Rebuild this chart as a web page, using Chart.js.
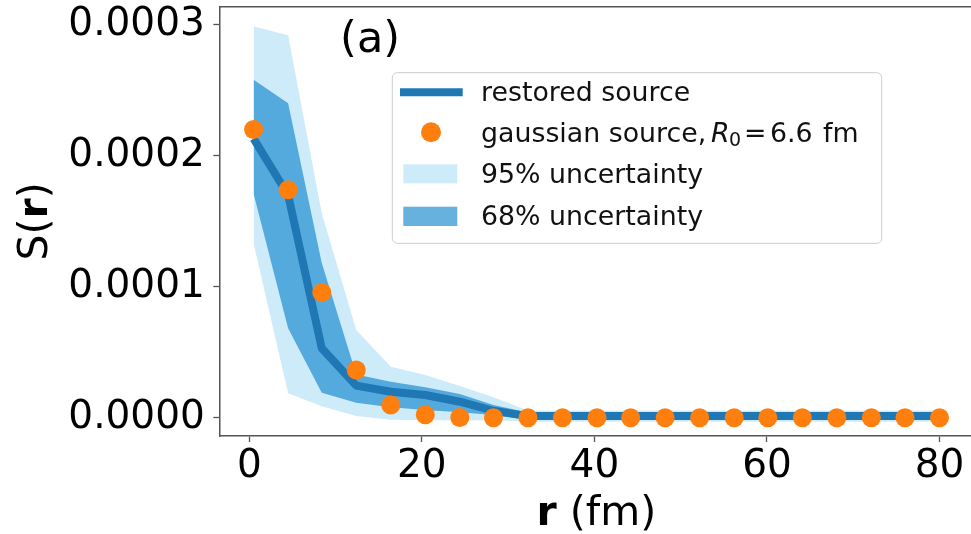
<!DOCTYPE html>
<html>
<head>
<meta charset="utf-8">
<script src="https://cdn.jsdelivr.net/npm/chart.js@4.4.1/dist/chart.umd.min.js"></script>
<style>
  html, body { margin: 0; padding: 0; background: #ffffff; overflow: hidden; }
  #wrap { width: 971px; height: 534px; position: relative; }
</style>
</head>
<body>
<div id="wrap"><canvas id="c" width="971" height="534"></canvas></div>
<script>
// ---- data ----
const xValues = [0.5, 4.5, 8.4, 12.4, 16.4, 20.4, 24.4, 28.3, 32.3, 36.3, 40.3, 44.2, 48.2, 52.2, 56.2, 60.1, 64.1, 68.1, 72.1, 76.0, 80.0];
const gaussianSource = [0.000220, 0.000174, 0.0000955, 0.0000364, 0.0000096, 0.0000022, 0.0000002, 0, 0, 0, 0, 0, 0, 0, 0, 0, 0, 0, 0, 0, 0];
const restoredSource = [0.000213, 0.000170, 0.0000530, 0.0000245, 0.0000198, 0.0000173, 0.0000122, 0.0000053, 0.0000012, 0.0000012, 0.0000012, 0.0000012, 0.0000012, 0.0000012, 0.0000012, 0.0000012, 0.0000012, 0.0000012, 0.0000012, 0.0000012, 0.0000012];
const band68Upper = [0.000258, 0.000240, 0.000118, 0.0000330, 0.0000275, 0.0000232, 0.0000181, 0.0000097, 0.0000040, 0.0000040, 0.0000040, 0.0000040, 0.0000040, 0.0000040, 0.0000040, 0.0000040, 0.0000040, 0.0000040, 0.0000040, 0.0000040, 0.0000040];
const band68Lower = [0.000171, 0.0000682, 0.0000190, 0.0000115, 0.0000079, 0.0000059, 0.0000041, 0.0000020, -0.0000015, -0.0000015, -0.0000015, -0.0000015, -0.0000015, -0.0000015, -0.0000015, -0.0000015, -0.0000015, -0.0000015, -0.0000015, -0.0000015, -0.0000015];
const band95Upper = [0.0002985, 0.000292, 0.000156, 0.0000670, 0.0000389, 0.0000326, 0.0000242, 0.0000156, 0.0000055, 0.0000055, 0.0000055, 0.0000055, 0.0000055, 0.0000055, 0.0000055, 0.0000055, 0.0000055, 0.0000055, 0.0000055, 0.0000055, 0.0000055];
const band95Lower = [0.000133, 0.0000186, 0.0000087, 0.0000013, -0.0000015, -0.0000020, -0.0000020, -0.0000020, -0.0000030, -0.0000030, -0.0000030, -0.0000030, -0.0000030, -0.0000030, -0.0000030, -0.0000030, -0.0000030, -0.0000030, -0.0000030, -0.0000030, -0.0000030];
const xTicks = [0, 20, 40, 60, 80];
const yTicks = [0, 0.0001, 0.0002, 0.0003];
const legendLabels = ['restored source', 'gaussian source,', '95% uncertainty', '68% uncertainty'];
const panelLabel = '(a)';

// ---- styles ----
const C_LINE = '#1f77b4';
const C_DOT = '#ff7f0e';
const C_95 = '#cdebf9';
const C_68 = 'rgba(14,131,205,0.63)';
const FONT = '"DejaVu Sans", "Liberation Sans", sans-serif';
const SPINE = '#555555';

const pts = arr => arr.map((v, i) => ({ x: xValues[i], y: v }));

const bandDs = (label, data, fill, color, order) => ({
  label, data: pts(data), fill, backgroundColor: color,
  borderColor: 'rgba(0,0,0,0)', borderWidth: 0, pointRadius: 0, pointHoverRadius: 0,
  tension: 0, order
});

const framePlugin = {
  id: 'framePlugin',
  afterDraw(chart) {
    const ctx = chart.ctx;
    const a = chart.chartArea;
    const xs = chart.scales.x, ys = chart.scales.y;
    ctx.save();
    // top spine
    ctx.strokeStyle = SPINE; ctx.lineWidth = 1.5;
    ctx.beginPath(); ctx.moveTo(a.left, a.top); ctx.lineTo(chart.width + 5, a.top); ctx.stroke();

    // panel label in data coordinates
    ctx.fillStyle = '#000';
    ctx.font = '43px ' + FONT;
    ctx.textAlign = 'center'; ctx.textBaseline = 'alphabetic';
    ctx.fillText(panelLabel, xs.getPixelForValue(14.0), ys.getPixelForValue(0.000279));

    // x axis title: bold r + " (fm)"
    const fBold = 'bold 41px ' + FONT, fNorm = '41px ' + FONT;
    ctx.textAlign = 'left';
    ctx.font = fBold; const w1 = ctx.measureText('r').width;
    ctx.font = fNorm; const w2 = ctx.measureText(' (fm)').width;
    const cx = 596.4;
    let sx = cx - (w1 + w2) / 2;
    ctx.font = fBold; ctx.fillText('r', sx, 525);
    ctx.font = fNorm; ctx.fillText(' (fm)', sx + w1, 525);

    // y axis title: S( bold r )
    ctx.save();
    ctx.translate(47, (a.top + a.bottom) / 2);
    ctx.rotate(-Math.PI / 2);
    ctx.font = fNorm; const a1 = ctx.measureText('S(').width;
    ctx.font = fBold; const a2 = ctx.measureText('r').width;
    ctx.font = fNorm; const a3 = ctx.measureText(')').width;
    let ty = -(a1 + a2 + a3) / 2;
    ctx.font = fNorm; ctx.fillText('S(', ty, 0);
    ctx.font = fBold; ctx.fillText('r', ty + a1, 0);
    ctx.font = fNorm; ctx.fillText(')', ty + a1 + a2, 0);
    ctx.restore();

    // legend box
    const bx = 392.3, by = 72.7, bw = 489.4, bh = 170.6, r = 5;
    ctx.beginPath();
    ctx.moveTo(bx + r, by); ctx.lineTo(bx + bw - r, by); ctx.arcTo(bx + bw, by, bx + bw, by + r, r);
    ctx.lineTo(bx + bw, by + bh - r); ctx.arcTo(bx + bw, by + bh, bx + bw - r, by + bh, r);
    ctx.lineTo(bx + r, by + bh); ctx.arcTo(bx, by + bh, bx, by + bh - r, r);
    ctx.lineTo(bx, by + r); ctx.arcTo(bx, by, bx + r, by, r); ctx.closePath();
    ctx.fillStyle = 'rgba(255,255,255,0.8)'; ctx.fill();
    ctx.strokeStyle = '#cccccc'; ctx.lineWidth = 1; ctx.stroke();

    // handles
    ctx.strokeStyle = C_LINE; ctx.lineWidth = 8; ctx.lineCap = 'butt';
    ctx.beginPath(); ctx.moveTo(400, 92.3); ctx.lineTo(462.7, 92.3); ctx.stroke();
    ctx.fillStyle = C_DOT;
    ctx.beginPath(); ctx.arc(431, 132.3, 10, 0, Math.PI * 2); ctx.fill();
    ctx.fillStyle = C_95; ctx.fillRect(403.3, 164.3, 54, 19);
    ctx.fillStyle = C_68; ctx.fillRect(403.3, 206.7, 54, 19.3);

    // labels
    const lf = '26.8px ' + FONT;
    ctx.fillStyle = '#111'; ctx.font = lf; ctx.textBaseline = 'alphabetic'; ctx.textAlign = 'left';
    const tx = 481;
    ctx.fillText(legendLabels[0], tx, 101);
    ctx.fillText(legendLabels[1], tx, 141.5);
    ctx.font = 'italic 26.8px ' + FONT;
    ctx.fillText('R', 711, 141.5);
    ctx.font = '19px ' + FONT;
    ctx.fillText('0', 729, 146);
    ctx.font = lf;
    ctx.fillText('=', 744, 141.5);
    ctx.fillText('6.6', 770, 141.5);
    ctx.fillText('fm', 823, 141.5);
    ctx.fillText(legendLabels[2], tx, 183);
    ctx.fillText(legendLabels[3], tx, 224.5);
    ctx.restore();
  }
};

const tickFont = { family: FONT, size: 39 };

new Chart(document.getElementById('c'), {
  type: 'line',
  data: {
    datasets: [
      bandDs('95% upper', band95Upper, '+1', C_95, 6),
      bandDs('95% lower', band95Lower, false, C_95, 5),
      bandDs('68% upper', band68Upper, '+1', C_68, 4),
      bandDs('68% lower', band68Lower, false, C_68, 3),
      {
        label: 'restored source', data: pts(restoredSource), borderColor: C_LINE, borderWidth: 8,
        borderJoinStyle: 'round', borderCapStyle: 'butt', pointRadius: 0, fill: false, tension: 0, order: 2
      },
      {
        label: 'gaussian source', data: pts(gaussianSource), showLine: false, pointRadius: 9.5,
        pointBackgroundColor: C_DOT, pointBorderWidth: 0, pointBorderColor: C_DOT, order: 1
      }
    ]
  },
  options: {
    responsive: false, animation: false, devicePixelRatio: 1,
    layout: { autoPadding: false, padding: { top: 6.7, right: 0, bottom: 0, left: 0 } },
    plugins: { legend: { display: false }, tooltip: { enabled: false }, title: { display: false } },
    scales: {
      x: {
        type: 'linear', min: -3.475, max: 83.65,
        afterBuildTicks: s => { s.ticks = xTicks.map(v => ({ value: v })); },
        afterFit: s => { s.height = 98; s.paddingLeft = 0; s.paddingRight = 0; },
        ticks: { font: tickFont, color: '#000', padding: 1, maxRotation: 0, autoSkip: false, callback: v => String(v) },
        grid: { drawOnChartArea: false, drawTicks: true, tickLength: 6, tickColor: SPINE, tickWidth: 1.3 },
        border: { display: true, color: SPINE, width: 1.5 }
      },
      y: {
        type: 'linear', min: -0.00001397, max: 0.0003137,
        afterBuildTicks: s => { s.ticks = yTicks.map(v => ({ value: v })); },
        afterFit: s => { s.width = 219.3; s.paddingTop = 0; s.paddingBottom = 0; },
        ticks: { font: tickFont, color: '#000', padding: 8.5, autoSkip: false, callback: v => Number(v).toFixed(4) },
        grid: { drawOnChartArea: false, drawTicks: true, tickLength: 6, tickColor: SPINE, tickWidth: 1.3 },
        border: { display: true, color: SPINE, width: 1.5 }
      }
    }
  },
  plugins: [framePlugin]
});
</script>
</body>
</html>
